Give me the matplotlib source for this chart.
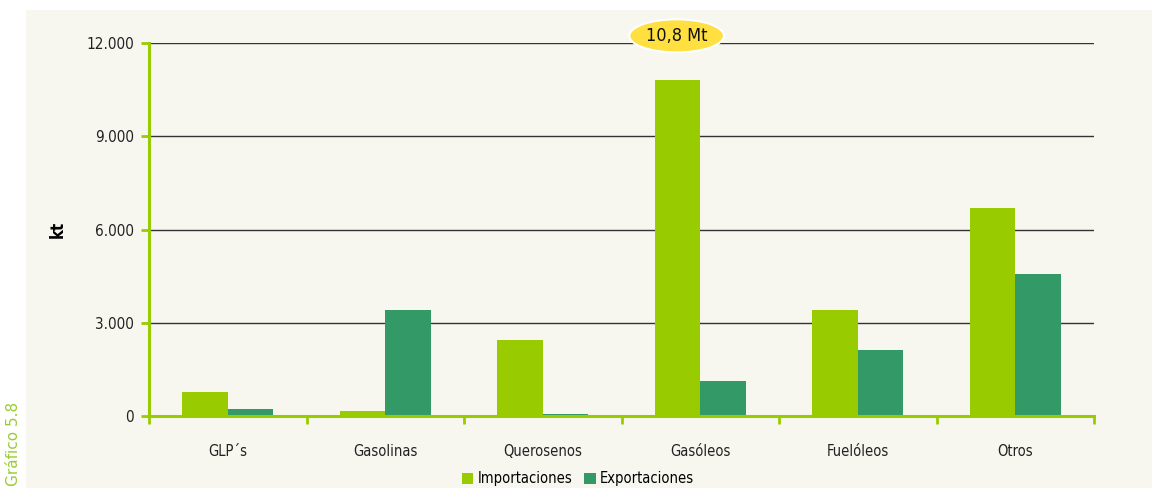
import matplotlib
matplotlib.use("Agg")
import matplotlib.pyplot as plt
from matplotlib import font_manager
import numpy as np

categories = ["GLP´s", "Gasolinas", "Querosenos", "Gasóleos", "Fuelóleos", "Otros"]
importaciones = [780, 160, 2450, 10810, 3410, 6690]
exportaciones = [225, 3410, 50, 1130, 2120, 4570]
yticks = [0, 3000, 6000, 9000, 12000]
ytick_labels = ["0", "3.000", "6.000", "9.000", "12.000"]
series_names = ["Importaciones", "Exportaciones"]

C_IMP = "#99cc00"
C_EXP = "#339966"
BG = "#f7f7ef"

names = sorted({f.name for f in font_manager.fontManager.ttflist})
narrow = "Liberation Sans Narrow" if "Liberation Sans Narrow" in names else "DejaVu Sans"
FONT = dict(family=narrow, stretch="condensed")

fig = plt.figure(figsize=(11.52, 4.88), dpi=100)
fig.patch.set_facecolor("white")
fig.patches.append(plt.Rectangle((26/1152, 0), 1 - 26/1152, 1 - 10/488,
                                 transform=fig.transFigure, facecolor=BG,
                                 edgecolor="none", zorder=-5))

ax = fig.add_axes([149/1152, 1 - 416/488, (1094-149)/1152, (416-43)/488])
ax.set_facecolor("none")
ax.set_zorder(2)

x = np.arange(len(categories))
w = 0.29
ax.bar(x - w/2, importaciones, w, color=C_IMP, label=series_names[0], zorder=3)
ax.bar(x + w/2, exportaciones, w, color=C_EXP, label=series_names[1], zorder=3)

ax.set_xlim(-0.5, len(categories) - 0.5)
ax.set_ylim(0, 12000)
ax.set_yticks(yticks)
ax.set_yticklabels(ytick_labels, fontsize=11, color="#222222", **FONT)
for yv in yticks[1:]:
    ax.axhline(yv, color="#333333", lw=1, zorder=1)

ax.set_xticks(x)
ax.set_xticklabels(categories, fontsize=10.5, color="#222222", **FONT)
ax.set_xticks(np.arange(len(categories) + 1) - 0.5, minor=True)
ax.tick_params(axis="x", which="major", length=0, pad=20)
ax.tick_params(axis="x", which="minor", length=6, width=2, color=C_IMP, direction="out")
ax.tick_params(axis="y", length=6, width=2, color=C_IMP, direction="out", pad=5)

for s in ["top", "right"]:
    ax.spines[s].set_visible(False)
for s in ["left", "bottom"]:
    ax.spines[s].set_color(C_IMP)
    ax.spines[s].set_linewidth(2.2)
    ax.spines[s].set_zorder(4)

ax.set_ylabel("kt", fontsize=12, fontweight="bold", labelpad=14, **FONT)

ax.text(2.85, 12230, "10,8 Mt", ha="center", va="center", fontsize=13, color="#111111",
        bbox=dict(boxstyle="ellipse,pad=0.15", facecolor="#ffe040", edgecolor="white", lw=1.5),
        zorder=6, clip_on=False, **FONT)

leg = fig.legend(loc="center", bbox_to_anchor=(578/1152, 1 - 479/488), ncol=2,
                 frameon=False, handlelength=0.8, handleheight=0.8,
                 handletextpad=0.3, columnspacing=0.8, prop=dict(size=10.5, **FONT))

fig.text(14/1152, 1 - 444/488, "Gráfico 5.8", rotation=90, color="#99cc33",
         fontsize=11, ha="center", va="center", family="DejaVu Sans")

fig.savefig("out.png", dpi=100, facecolor="white")
